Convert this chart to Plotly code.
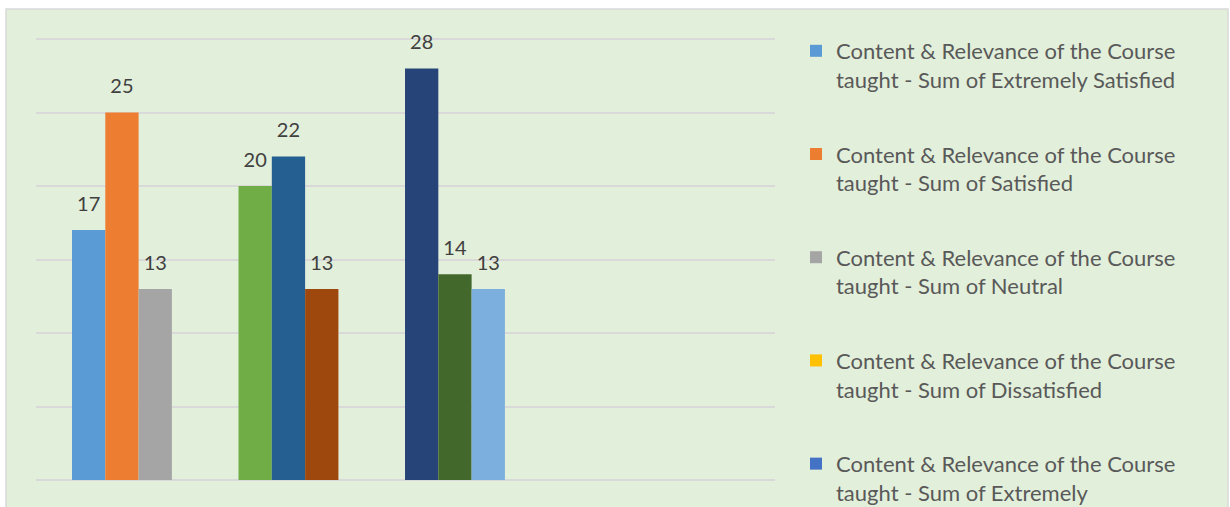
import plotly.graph_objects as go

# ---- data ----
series_names = [
    "Content & Relevance of the Course taught - Sum of Extremely Satisfied",
    "Content & Relevance of the Course taught - Sum of Satisfied",
    "Content & Relevance of the Course taught - Sum of Neutral",
    "Content & Relevance of the Course taught - Sum of Dissatisfied",
    "Content & Relevance of the Course taught - Sum of Extremely Dissatisfied",
    "Series 6", "Series 7", "Series 8", "Series 9", "Series 10",
    "Series 11", "Series 12", "Series 13", "Series 14", "Series 15",
]
legend_labels = [
    "Content & Relevance of the Course<br>taught - Sum of Extremely Satisfied",
    "Content & Relevance of the Course<br>taught - Sum of Satisfied",
    "Content & Relevance of the Course<br>taught - Sum of Neutral",
    "Content & Relevance of the Course<br>taught - Sum of Dissatisfied",
    "Content & Relevance of the Course<br>taught - Sum of Extremely",
]
values = [17, 25, 13, None, None, 20, 22, 13, None, None, 28, 14, 13, None, None]
colors = ["#5B9BD5", "#ED7D31", "#A5A5A5", "#FFC000", "#4472C4",
          "#70AD47", "#255E91", "#9E480E", "#636363", "#997300",
          "#264478", "#43682B", "#7CAFDD", "#F1975A", "#B7B7B7"]

FONT = "Lato"
slots = list(range(len(values)))

fig = go.Figure()
for i, (name, v, c) in enumerate(zip(series_names, values, colors)):
    show = i < len(legend_labels)
    fig.add_trace(go.Bar(
        x=[slots[i]], y=[v], name=legend_labels[i] if show else name,
        marker=dict(color=c, line=dict(width=0)), width=1,
        showlegend=show, legendgroup=f"g{i}",
    ))

lab_x = [s for s, v in zip(slots, values) if v is not None]
lab_y = [v for v in values if v is not None]
fig.add_trace(go.Scatter(
    x=lab_x, y=lab_y, mode="markers+text", text=[str(v) for v in lab_y],
    textposition="top center", marker=dict(size=21, opacity=0),
    textfont=dict(family=FONT, size=20, color="#404040"),
    showlegend=False, hoverinfo="skip", cliponaxis=False,
))

fig.update_layout(
    width=1230, height=507,
    margin=dict(l=36, r=455, t=31, b=27, autoexpand=False),
    paper_bgcolor="white", plot_bgcolor="rgba(0,0,0,0)",
    barmode="overlay",
    font=dict(family=FONT, color="#595959"),
    xaxis=dict(range=[-1.581, 20.61], showgrid=False, zeroline=False,
               showticklabels=False, ticks=""),
    yaxis=dict(range=[0, 30.544], tickvals=[0, 5, 10, 15, 20, 25, 30],
               showticklabels=False, ticks="",
               showgrid=True, gridcolor="#D9D9D9", gridwidth=1.5,
               zeroline=True, zerolinecolor="#D9D9D9", zerolinewidth=1.5),
    legend=dict(x=1.0284, xanchor="left", y=1.0022, yanchor="top",
                bgcolor="rgba(0,0,0,0)", font=dict(family=FONT, size=22, color="#595959"),
                tracegroupgap=43, valign="top", maxheight=900),
    shapes=[dict(type="rect", xref="paper", yref="paper",
                 x0=-0.0406, x1=1.613, y0=-0.2, y1=1.049,
                 fillcolor="#E2EFDA", line=dict(color="#D9D9D9", width=1.5),
                 layer="below")],
)

fig.write_html("out.html", config={"displayModeBar": False},
               post_script="document.body.style.margin='0';")
